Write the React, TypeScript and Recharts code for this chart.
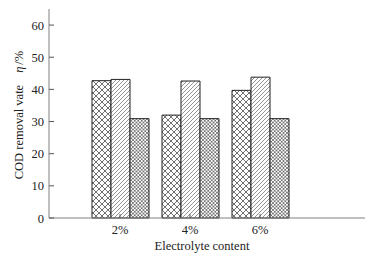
import { BarChart, Bar, XAxis, YAxis } from 'recharts'

// electrolyte content groups (last slot left empty, as in the figure)
const categories = ['2%', '4%', '6%', '']
const seriesA = [42.7, 32.0, 39.7, null]
const seriesB = [43.1, 42.6, 43.8, null]
const seriesC = [30.9, 30.9, 30.9, null]
const yTicks = [0, 10, 20, 30, 40, 50, 60]

const data = categories.map((c, i) => ({
  name: c,
  a: seriesA[i],
  b: seriesB[i],
  c: seriesC[i],
}))

const FONT = '"Liberation Serif", "Times New Roman", serif'
const FRAME = '#808080'

const YTick = ({ x, y, payload }: any) => (
  <g>
    <line x1={x + 5} x2={x + 10} y1={y} y2={y} stroke="#555" strokeWidth={1} />
    <text x={x} y={y} dy={4.5} textAnchor="end" fontSize={12.5} fill="#222" fontFamily={FONT}>
      {payload.value}
    </text>
  </g>
)

const XTick = ({ x, y, payload }: any) => {
  if (!payload.value) return null
  return (
    <g>
      <line x1={x} x2={x} y1={y} y2={y - 4} stroke="#555" strokeWidth={1} />
      <text x={x} y={y + 16} textAnchor="middle" fontSize={12.5} fill="#222" fontFamily={FONT}>
        {payload.value}
      </text>
    </g>
  )
}

const YLabel = () => (
  <text
    x={23}
    y={115}
    textAnchor="middle"
    transform="rotate(-90, 23, 115)"
    fontSize={12.5}
    fill="#222"
    fontFamily={FONT}
  >
    COD removal vate
    <tspan dx={12} fontStyle="italic">η</tspan>
    <tspan dx={2}>/%</tspan>
  </text>
)

const XLabel = () => (
  <text x={202} y={250} textAnchor="middle" fontSize={12.5} fill="#222" fontFamily={FONT}>
    Electrolyte content
  </text>
)

export default function App() {
  return (
    <div style={{ position: 'absolute', left: 0, top: 0, background: '#fff' }}>
      <BarChart
        width={375}
        height={259}
        data={data}
        margin={{ top: 9, right: 10, left: 0, bottom: 0 }}
        barCategoryGap={7}
        barGap={0}
      >
        <defs>
          <pattern id="crossCoarse" patternUnits="userSpaceOnUse" width={6} height={6}>
            <rect width={6} height={6} fill="#fff" />
            <path d="M0,0 L6,6 M0,6 L6,0 M-1,1 L1,-1 M5,7 L7,5 M-1,5 L1,7 M5,-1 L7,1" stroke="#333" strokeWidth={0.7} />
          </pattern>
          <pattern id="diag" patternUnits="userSpaceOnUse" width={4} height={4}>
            <rect width={4} height={4} fill="#fff" />
            <path d="M0,4 L4,0 M-1,1 L1,-1 M3,5 L5,3" stroke="#666" strokeWidth={0.7} />
          </pattern>
          <pattern id="crossFine" patternUnits="userSpaceOnUse" width={3.5} height={3.5}>
            <rect width={3.5} height={3.5} fill="#fff" />
            <path d="M0,0 L3.5,3.5 M0,3.5 L3.5,0" stroke="#333" strokeWidth={0.6} />
          </pattern>
        </defs>

        <XAxis
          dataKey="name"
          height={41}
          padding={{ left: 36, right: 0 }}
          axisLine={{ stroke: FRAME }}
          tickLine={false}
          tickSize={0}
          tickMargin={0}
          tick={<XTick />}
          interval={0}
          label={{ content: () => <XLabel /> }}
        />
        <XAxis
          xAxisId="top"
          orientation="top"
          dataKey="name"
          height={0}
          axisLine={{ stroke: FRAME }}
          tick={false}
          tickLine={false}
        />
        <YAxis
          width={49}
          domain={[0, 65]}
          ticks={yTicks}
          interval={0}
          axisLine={{ stroke: FRAME }}
          tickLine={false}
          tickSize={0}
          tickMargin={5}
          tick={<YTick />}
          label={{ content: () => <YLabel /> }}
        />
        <YAxis
          yAxisId="right"
          orientation="right"
          width={0}
          domain={[0, 65]}
          axisLine={{ stroke: FRAME }}
          tick={false}
          tickLine={false}
        />

        <Bar dataKey="a" fill="url(#crossCoarse)" stroke="#222" strokeWidth={1} isAnimationActive={false} />
        <Bar dataKey="b" fill="url(#diag)" stroke="#222" strokeWidth={1} isAnimationActive={false} />
        <Bar dataKey="c" fill="url(#crossFine)" stroke="#222" strokeWidth={1} isAnimationActive={false} />
      </BarChart>
    </div>
  )
}
